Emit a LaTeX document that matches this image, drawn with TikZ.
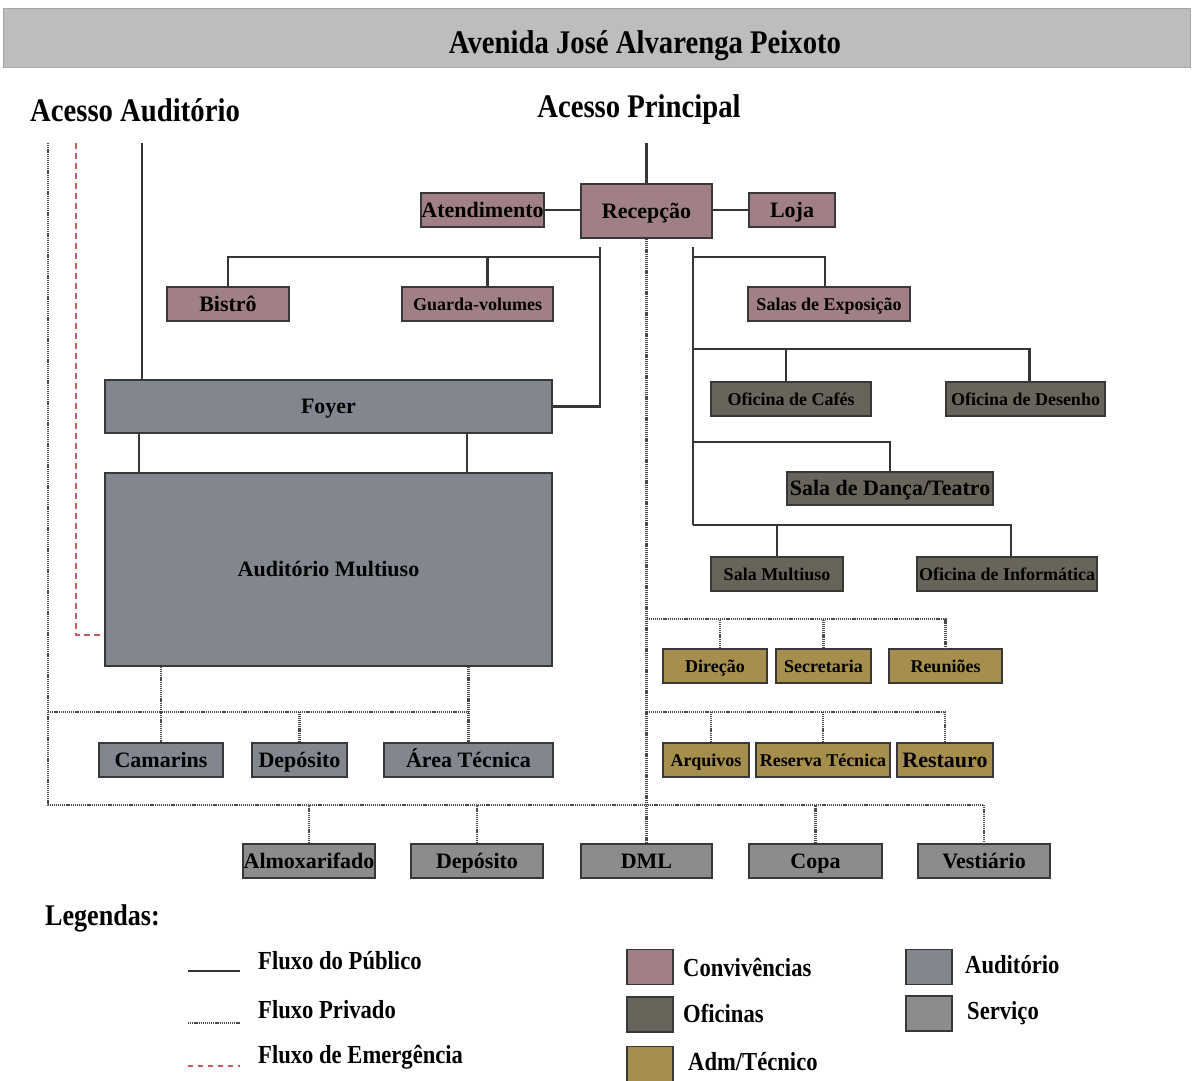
\documentclass[tikz,border=0pt]{standalone}
\usepackage{fontspec}
\setmainfont{Liberation Serif}
\newfontfamily\condfont[FakeStretch=0.87]{Liberation Serif}
\definecolor{barfill}{HTML}{BDBDBD}
\definecolor{conv}{HTML}{A08084}
\definecolor{ofic}{HTML}{67645A}
\definecolor{admc}{HTML}{A68E4C}
\definecolor{audc}{HTML}{82868F}
\definecolor{servc}{HTML}{8C8C8C}
\definecolor{linec}{HTML}{363636}
\definecolor{privc}{HTML}{4A4A4A}
\definecolor{emergc}{HTML}{C45C62}
\definecolor{boxline}{HTML}{383838}
\begin{document}
\begin{tikzpicture}[x=1pt,y=-1pt,
  pub/.style={draw=linec, line width=2.3pt},
  priv/.style={draw=privc, line width=2.4pt, dash pattern=on 1.2pt off 0.9pt},
  emerg/.style={draw=emergc, line width=2.6pt, dash pattern=on 6pt off 4pt},
  roombox/.style={rectangle, draw=boxline, line width=1.7pt, inner sep=0pt, text=black,
    font=\bfseries\fontsize{22}{24}\selectfont, text height=14.5pt, text depth=0pt},
  lblsmall/.style={font=\bfseries\fontsize{18}{20}\selectfont, text height=12pt, text depth=0pt},
  bw/.style={minimum width=#1},
  bh/.style={minimum height=#1},
  titletext/.style={font=\condfont\bfseries\fontsize{33}{36}\selectfont, inner sep=0pt, text=black, anchor=base},
  legtext/.style={font=\condfont\bfseries\fontsize{26}{28}\selectfont, anchor=west, inner sep=0pt, text=black},
  swatch/.style={rectangle, draw=boxline, line width=1.7pt, minimum width=46, minimum height=35, inner sep=0pt}
]
\useasboundingbox (0,0) rectangle (1195,1080);
\fill[white] (0,0) rectangle (1195,1080);

% title bar
\node[rectangle, fill=barfill, draw=gray!70, line width=0.8pt, minimum width=1187, minimum height=59, inner sep=0pt] (bar) at (597,37.5) {};
\node[titletext] (barT) at (645,53) {Avenida José Alvarenga Peixoto};

\node[titletext] (accA) at (135,121) {Acesso Auditório};
\node[titletext] (accP) at (639,117) {Acesso Principal};

% Convivencias
\node[roombox, fill=conv, bw=131, bh=54] (recep) at (646.5,211) {Recepção};
\node[roombox, fill=conv, bw=123, bh=34] (atend) at (482.5,210) {Atendimento};
\node[roombox, fill=conv, bw=86, bh=34] (loja) at (792,210) {Loja};
\node[roombox, fill=conv, bw=122, bh=34] (bistro) at (228,304) {Bistrô};
\node[roombox, fill=conv, bw=151, bh=34, lblsmall] (guarda) at (477.5,304) {Guarda-volumes};
\node[roombox, fill=conv, bw=162, bh=34, lblsmall] (salas) at (829,304) {Salas de Exposição};

% Auditorio
\node[roombox, fill=audc, bw=447, bh=53] (foyer) at (328.5,406.5) {Foyer};
\node[roombox, fill=audc, bw=447, bh=193] (audit) at (328.5,569.5) {Auditório Multiuso};
\node[roombox, fill=audc, bw=124, bh=34] (camarins) at (161,760) {Camarins};
\node[roombox, fill=audc, bw=95, bh=34] (deposA) at (299.5,760) {Depósito};
\node[roombox, fill=audc, bw=169, bh=34] (areaT) at (468.5,760) {Área Técnica};

% Oficinas
\node[roombox, fill=ofic, bw=160, bh=34, lblsmall] (cafes) at (791,399) {Oficina de Cafés};
\node[roombox, fill=ofic, bw=159, bh=34, lblsmall] (desenho) at (1025.5,399) {Oficina de Desenho};
\node[roombox, fill=ofic, bw=206, bh=33] (danca) at (890,488.5) {Sala de Dança/Teatro};
\node[roombox, fill=ofic, bw=132, bh=34, lblsmall] (multi) at (777,574) {Sala Multiuso};
\node[roombox, fill=ofic, bw=180, bh=34, lblsmall] (info) at (1007,574) {Oficina de Informática};

% Adm/Tecnico
\node[roombox, fill=admc, bw=104, bh=34, lblsmall] (direcao) at (715,666) {Direção};
\node[roombox, fill=admc, bw=95, bh=34, lblsmall] (secret) at (823.5,666) {Secretaria};
\node[roombox, fill=admc, bw=113, bh=34, lblsmall] (reunioes) at (945.5,666) {Reuniões};
\node[roombox, fill=admc, bw=86, bh=34, lblsmall] (arquivos) at (706,760) {Arquivos};
\node[roombox, fill=admc, bw=134, bh=34, lblsmall] (reserva) at (823,760) {Reserva Técnica};
\node[roombox, fill=admc, bw=96, bh=34] (restauro) at (945,760) {Restauro};

% Servico
\node[roombox, fill=servc, bw=132, bh=34] (almox) at (309,861) {Almoxarifado};
\node[roombox, fill=servc, bw=132, bh=34] (deposS) at (477,861) {Depósito};
\node[roombox, fill=servc, bw=131, bh=34] (dml) at (646.5,861) {DML};
\node[roombox, fill=servc, bw=133, bh=34] (copa) at (815.5,861) {Copa};
\node[roombox, fill=servc, bw=132, bh=34] (vest) at (984,861) {Vestiário};

% junction coordinates
\coordinate (pTop) at (646.5,143);
\coordinate (aTop) at (142,143);
\coordinate (eTop) at (76,143);
\coordinate (oTop) at (48,143);
\coordinate (lv) at (600,247);
\coordinate (lj) at (600,257);
\coordinate (rv) at (693,247);
\coordinate (rj1) at (693,257);
\coordinate (rj2) at (693,349);
\coordinate (rj3) at (693,442);
\coordinate (rj4) at (693,525);
\coordinate (aj1) at (646.5,619);
\coordinate (aj2) at (646.5,712);
\coordinate (oj1) at (48,712);
\coordinate (oj2) at (48,805);

% public flow
\draw[pub] (pTop) -- (recep.north);
\draw[pub] (aTop) -- (aTop |- foyer.north);
\draw[pub] (atend.east) -- (recep.west |- atend.east);
\draw[pub] (recep.east |- loja.west) -- (loja.west);
\draw[pub] (lv) -- (lv |- foyer.east) -- (foyer.east);
\draw[pub] (bistro.north) |- (lj);
\draw[pub] ([xshift=10pt]guarda.north) -- ([xshift=10pt]guarda.north |- lj);
\draw[pub] (rv) -- (rj4);
\draw[pub] (rj1) -| ([xshift=-4pt]salas.north);
\draw[pub] (rj2) -| ([xshift=4pt]desenho.north);
\draw[pub] ([xshift=-5pt]cafes.north) -- ([xshift=-5pt]cafes.north |- rj2);
\draw[pub] (rj3) -| (danca.north);
\draw[pub] (rj4) -| ([xshift=4pt]info.north);
\draw[pub] (multi.north) -- (multi.north |- rj4);
\draw[pub] ([xshift=35pt]foyer.south west) -- ([xshift=35pt]audit.north west);
\draw[pub] ([xshift=363pt]foyer.south west) -- ([xshift=363pt]audit.north west);

% private flow
\draw[priv] (recep.south) -- (dml.north);
\draw[priv] (aj1) -| (reunioes.north);
\draw[priv] ([xshift=5pt]direcao.north) -- ([xshift=5pt]direcao.north |- aj1);
\draw[priv] (secret.north) -- (secret.north |- aj1);
\draw[priv] (aj2) -| (restauro.north);
\draw[priv] ([xshift=5pt]arquivos.north) -- ([xshift=5pt]arquivos.north |- aj2);
\draw[priv] (reserva.north) -- (reserva.north |- aj2);
\draw[priv] (oTop) -- (oj2) -| (vest.north);
\draw[priv] (oj1) -- (oj1 -| areaT.north);
\draw[priv] (audit.south -| camarins.north) -- (camarins.north);
\draw[priv] (audit.south -| areaT.north) -- (areaT.north);
\draw[priv] (deposA.north) -- (deposA.north |- oj1);
\draw[priv] (almox.north) -- (almox.north |- oj2);
\draw[priv] (deposS.north) -- (deposS.north |- oj2);
\draw[priv] (copa.north) -- (copa.north |- oj2);

% emergency flow
\draw[emerg] (eTop) |- ([yshift=32pt]audit.south west);

% legend
\node[titletext, font=\condfont\bfseries\fontsize{30}{33}\selectfont, anchor=base west] (leg) at (45,925) {Legendas:};

\coordinate (l1a) at (188,971); \coordinate (l1b) at (240,971);
\coordinate (l2a) at (188,1023); \coordinate (l2b) at (240,1023);
\coordinate (l3a) at (188,1066); \coordinate (l3b) at (240,1066);
\draw[pub] (l1a) -- (l1b);
\draw[priv, line width=1.8pt] (l2a) -- (l2b);
\draw[emerg, dash pattern=on 5pt off 5pt] (l3a) -- (l3b);
\node[legtext] (t1) at (258,961) {Fluxo do Público};
\node[legtext] (t2) at (258,1010) {Fluxo Privado};
\node[legtext] (t3) at (258,1057) {Fluxo de Emergência};

\node[swatch, fill=conv] (s1) at (650,967) {};
\node[swatch, fill=ofic] (s2) at (650,1014.5) {};
\node[swatch, fill=admc] (s3) at (650,1064) {};
\node[swatch, fill=audc] (s4) at (929,967) {};
\node[swatch, fill=servc] (s5) at (929,1013.5) {};
\node[legtext] (c1) at (683,967) {Convivências};
\node[legtext] (c2) at (683,1013) {Oficinas};
\node[legtext] (c3) at (688,1062) {Adm/Técnico};
\node[legtext] (c4) at (965,965) {Auditório};
\node[legtext] (c5) at (967,1013) {Serviço};
\end{tikzpicture}
\end{document}
